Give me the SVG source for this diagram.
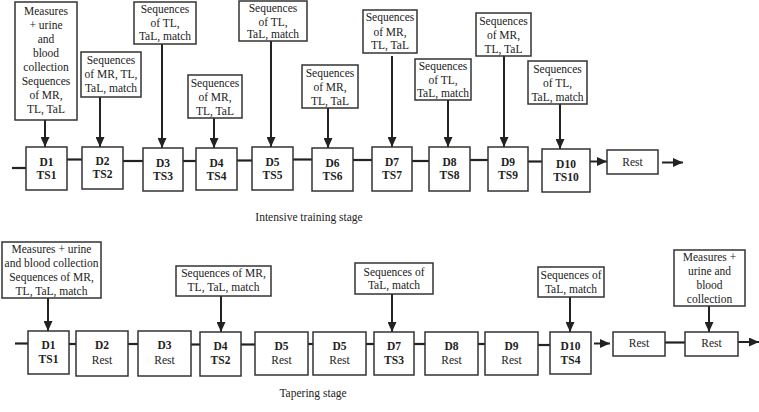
<svg xmlns="http://www.w3.org/2000/svg" width="759" height="412" viewBox="0 0 759 412">
<defs>
<marker id="ah" markerUnits="userSpaceOnUse" markerWidth="10" markerHeight="9" viewBox="0 0 10 9" refX="10" refY="4.5" orient="auto">
<path d="M0,0 L10,4.5 L0,9 z" fill="#222"/>
</marker>
<style>
rect{fill:#fff;stroke:#333;stroke-width:1.5}
text{font-family:"Liberation Serif","Times New Roman",serif;font-size:11.5px;fill:#222;text-anchor:middle}
.b{font-weight:bold}
.ln{stroke:#222;stroke-width:2.2;fill:none}
.ar{stroke:#222;stroke-width:2;fill:none;marker-end:url(#ah)}
</style>
</defs>
<rect x="0" y="0" width="759" height="412" style="fill:#fff;stroke:none"/>

<g id="connectors">
<!-- top row -->
<line class="ln" x1="12" y1="168" x2="26" y2="168"/>
<line class="ln" x1="67" y1="159.5" x2="82" y2="159.5"/>
<line class="ln" x1="123" y1="161" x2="143" y2="161"/>
<line class="ln" x1="183" y1="161" x2="196" y2="161"/>
<line class="ln" x1="237" y1="160.5" x2="252" y2="160.5"/>
<line class="ln" x1="293" y1="159.5" x2="312" y2="159.5"/>
<line class="ln" x1="353" y1="160" x2="372" y2="160"/>
<line class="ln" x1="412" y1="161" x2="429" y2="161"/>
<line class="ln" x1="470" y1="160" x2="488" y2="160"/>
<line class="ln" x1="528" y1="161.5" x2="542" y2="161.5"/>
<line class="ar" x1="590" y1="161.5" x2="607" y2="161.5"/>
<line class="ar" x1="662" y1="162.5" x2="683" y2="162.5"/>
<line class="ar" x1="45" y1="120" x2="45" y2="147"/>
<line class="ar" x1="100" y1="97" x2="100" y2="147"/>
<line class="ar" x1="162" y1="44" x2="162" y2="148"/>
<line class="ar" x1="214" y1="118" x2="214" y2="148"/>
<line class="ar" x1="271" y1="41" x2="271" y2="147"/>
<line class="ar" x1="328" y1="108" x2="328" y2="148"/>
<line class="ar" x1="392" y1="56" x2="392" y2="147"/>
<line class="ar" x1="448" y1="100" x2="448" y2="147"/>
<line class="ar" x1="504" y1="56" x2="504" y2="147"/>
<line class="ar" x1="560" y1="104" x2="560" y2="149"/>
<!-- bottom row -->
<line class="ln" x1="15" y1="343.5" x2="28" y2="343.5"/>
<line class="ln" x1="69" y1="344" x2="76" y2="344"/>
<line class="ln" x1="128" y1="344" x2="138" y2="344"/>
<line class="ln" x1="191" y1="344.5" x2="200" y2="344.5"/>
<line class="ln" x1="241" y1="344.5" x2="255" y2="344.5"/>
<line class="ln" x1="308" y1="344" x2="313" y2="344"/>
<line class="ln" x1="366" y1="344" x2="374" y2="344"/>
<line class="ln" x1="414" y1="344" x2="425" y2="344"/>
<line class="ln" x1="478" y1="344" x2="485" y2="344"/>
<line class="ln" x1="538" y1="345" x2="550" y2="345"/>
<line class="ar" x1="594" y1="343.5" x2="610" y2="343.5"/>
<line class="ln" x1="665" y1="342.5" x2="685" y2="342.5"/>
<line class="ar" x1="738" y1="342" x2="759" y2="342"/>
<line class="ar" x1="48" y1="298" x2="48" y2="331"/>
<line class="ar" x1="221" y1="296" x2="221" y2="332"/>
<line class="ar" x1="392" y1="294" x2="392" y2="332"/>
<line class="ar" x1="570" y1="297" x2="570" y2="332"/>
<line class="ar" x1="709" y1="306" x2="709" y2="332"/>
</g>

<!-- top row annotation boxes -->
<g id="t-note1"><rect x="15" y="2" width="62" height="118"/>
<text x="46" y="15">Measures</text><text x="46" y="29">+ urine</text><text x="46" y="43">and</text><text x="46" y="57">blood</text><text x="46" y="71">collection</text><text x="46" y="85">Sequences</text><text x="46" y="99">of MR,</text><text x="46" y="113">TL, TaL</text></g>
<g id="t-note2"><rect x="81" y="52" width="60" height="45"/>
<text x="111" y="64">Sequences</text><text x="111" y="78">of MR, TL,</text><text x="111" y="91.5">TaL, match</text></g>
<g id="t-note3"><rect x="134" y="2" width="62" height="42"/>
<text x="165" y="12.5">Sequences</text><text x="165" y="27">of TL,</text><text x="165" y="40">TaL, match</text></g>
<g id="t-note4"><rect x="188" y="75" width="54" height="43"/>
<text x="215" y="86.5">Sequences</text><text x="215" y="101">of MR,</text><text x="215" y="115">TL, TaL</text></g>
<g id="t-note5"><rect x="239" y="1" width="68" height="40"/>
<text x="273" y="12">Sequences</text><text x="273" y="25.5">of TL,</text><text x="273" y="38">TaL, match</text></g>
<g id="t-note6"><rect x="302" y="65" width="56" height="43"/>
<text x="330" y="76.5">Sequences</text><text x="330" y="91">of MR,</text><text x="330" y="104.5">TL, TaL</text></g>
<g id="t-note7"><rect x="363" y="10" width="54" height="43"/>
<text x="390" y="21">Sequences</text><text x="390" y="35.5">of MR,</text><text x="390" y="49">TL, TaL</text></g>
<g id="t-note8"><rect x="415" y="59" width="56" height="41"/>
<text x="443" y="70">Sequences</text><text x="443" y="83.5">of TL,</text><text x="443" y="97">TaL, match</text></g>
<g id="t-note9"><rect x="476" y="13" width="55" height="43"/>
<text x="503.5" y="25">Sequences</text><text x="503.5" y="39">of MR,</text><text x="503.5" y="52.5">TL, TaL</text></g>
<g id="t-note10"><rect x="528" y="61" width="59" height="43"/>
<text x="557.5" y="73">Sequences</text><text x="557.5" y="86.5">of TL,</text><text x="557.5" y="100.5">TaL, match</text></g>

<!-- top row day nodes -->
<g id="t-d1"><rect x="26" y="147" width="41" height="43"/><text class="b" x="46.5" y="165.5">D1</text><text class="b" x="46.5" y="178.5">TS1</text></g>
<g id="t-d2"><rect x="82" y="147" width="41" height="42"/><text class="b" x="102.5" y="165">D2</text><text class="b" x="102.5" y="178">TS2</text></g>
<g id="t-d3"><rect x="143" y="148" width="40" height="43"/><text class="b" x="163" y="166.5">D3</text><text class="b" x="163" y="179.5">TS3</text></g>
<g id="t-d4"><rect x="196" y="148" width="41" height="42"/><text class="b" x="216.5" y="166.5">D4</text><text class="b" x="216.5" y="179.5">TS4</text></g>
<g id="t-d5"><rect x="252" y="147" width="41" height="43"/><text class="b" x="272.5" y="165.5">D5</text><text class="b" x="272.5" y="178.5">TS5</text></g>
<g id="t-d6"><rect x="312" y="148" width="41" height="43"/><text class="b" x="332.5" y="166.5">D6</text><text class="b" x="332.5" y="179.5">TS6</text></g>
<g id="t-d7"><rect x="372" y="147" width="40" height="44"/><text class="b" x="392" y="166">D7</text><text class="b" x="392" y="179">TS7</text></g>
<g id="t-d8"><rect x="429" y="147" width="41" height="44"/><text class="b" x="449.5" y="166">D8</text><text class="b" x="449.5" y="179">TS8</text></g>
<g id="t-d9"><rect x="488" y="147" width="40" height="44"/><text class="b" x="508" y="166">D9</text><text class="b" x="508" y="179">TS9</text></g>
<g id="t-d10"><rect x="542" y="149" width="48" height="43"/><text class="b" x="566" y="167.5">D10</text><text class="b" x="566" y="181">TS10</text></g>
<g id="t-rest"><rect x="607" y="150" width="51" height="24"/><text x="632.5" y="166">Rest</text></g>

<text id="label-intensive" x="309" y="221">Intensive training stage</text>

<!-- bottom row annotation boxes -->
<g id="b-note1"><rect x="2" y="242" width="99" height="56"/>
<text x="51.5" y="252.5">Measures + urine</text><text x="51.5" y="267">and blood collection</text><text x="51.5" y="281">Sequences of MR,</text><text x="51.5" y="295">TL, TaL, match</text></g>
<g id="b-note4"><rect x="176" y="266" width="95" height="30"/>
<text x="223.5" y="277">Sequences of MR,</text><text x="223.5" y="291">TL, TaL, match</text></g>
<g id="b-note7"><rect x="355" y="263" width="78" height="31"/>
<text x="394" y="275.5">Sequences of</text><text x="394" y="289">TaL, match</text></g>
<g id="b-note10"><rect x="538" y="267" width="66" height="30"/>
<text x="571" y="278.5">Sequences of</text><text x="571" y="292.5">TaL, match</text></g>
<g id="b-note-end"><rect x="674" y="250" width="71" height="56"/>
<text x="709.5" y="261">Measures +</text><text x="709.5" y="275">urine and</text><text x="709.5" y="289">blood</text><text x="709.5" y="303">collection</text></g>

<!-- bottom row day nodes -->
<g id="b-d1"><rect x="28" y="331" width="41" height="43"/><text class="b" x="48.5" y="348.5">D1</text><text class="b" x="48.5" y="362.5">TS1</text></g>
<g id="b-d2"><rect x="76" y="331" width="52" height="45"/><text class="b" x="102" y="348.5">D2</text><text x="102" y="363.5">Rest</text></g>
<g id="b-d3"><rect x="138" y="331" width="53" height="45"/><text class="b" x="164.5" y="348.5">D3</text><text x="164.5" y="363.5">Rest</text></g>
<g id="b-d4"><rect x="200" y="332" width="41" height="44"/><text class="b" x="220.5" y="349.5">D4</text><text class="b" x="220.5" y="363.5">TS2</text></g>
<g id="b-d5a"><rect x="255" y="332" width="53" height="43"/><text class="b" x="281.5" y="349.5">D5</text><text x="281.5" y="363.5">Rest</text></g>
<g id="b-d5b"><rect x="313" y="332" width="53" height="43"/><text class="b" x="339.5" y="349.5">D5</text><text x="339.5" y="363.5">Rest</text></g>
<g id="b-d7"><rect x="374" y="332" width="40" height="43"/><text class="b" x="394" y="349.5">D7</text><text class="b" x="394" y="363.5">TS3</text></g>
<g id="b-d8"><rect x="425" y="332" width="53" height="43"/><text class="b" x="451.5" y="349.5">D8</text><text x="451.5" y="363.5">Rest</text></g>
<g id="b-d9"><rect x="485" y="332" width="53" height="43"/><text class="b" x="511.5" y="349.5">D9</text><text x="511.5" y="363.5">Rest</text></g>
<g id="b-d10"><rect x="550" y="332" width="41" height="42"/><text class="b" x="570.5" y="349.5">D10</text><text class="b" x="570.5" y="363.5">TS4</text></g>
<g id="b-rest1"><rect x="613" y="332" width="52" height="24"/><text x="639" y="346.5">Rest</text></g>
<g id="b-rest2"><rect x="685" y="332" width="53" height="24"/><text x="711.5" y="346.5">Rest</text></g>

<text id="label-tapering" x="313" y="397">Tapering stage</text>
</svg>
